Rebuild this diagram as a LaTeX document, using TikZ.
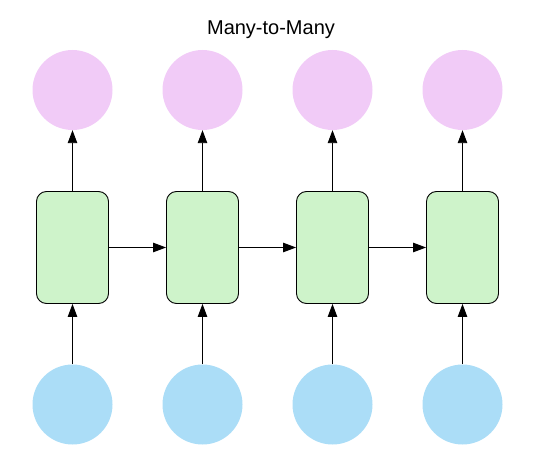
\documentclass[tikz,border=0pt]{standalone}
\usepackage{fontspec}
\setmainfont{Liberation Sans}
\usetikzlibrary{arrows.meta}
\definecolor{outpink}{RGB}{241,203,247}
\definecolor{cellgreen}{RGB}{206,243,202}
\definecolor{inblue}{RGB}{171,221,247}
\begin{document}
\begin{tikzpicture}[x=1pt,y=-1pt,
  outnode/.style={circle,fill=outpink,draw=none,minimum size=80pt,inner sep=0pt},
  innode/.style={circle,fill=inblue,draw=none,minimum size=80pt,inner sep=0pt},
  cell/.style={rectangle,rounded corners=10pt,fill=cellgreen,draw=black,line width=0.9pt,minimum width=72pt,minimum height=112pt,inner sep=0pt},
  arr/.style={-{Triangle[length=13pt,width=9.5pt]},line width=0.9pt,draw=black}]
\useasboundingbox (0,0) rectangle (534,462);
\node[font=\fontsize{20}{24}\selectfont,anchor=base] (title) at (271,35) {Many-to-Many};
\foreach \i/\x in {1/72.5,2/202.5,3/332.5,4/462.5}{
  \node[outnode] (o\i) at (\x,90) {};
  \node[cell] (c\i) at (\x,247.5) {};
  \node[innode] (in\i) at (\x,404.5) {};
  \draw[arr] (in\i) -- (c\i);
  \draw[arr] (c\i) -- (o\i);
}
\draw[arr] (c1) -- (c2);
\draw[arr] (c2) -- (c3);
\draw[arr] (c3) -- (c4);
\end{tikzpicture}
\end{document}
